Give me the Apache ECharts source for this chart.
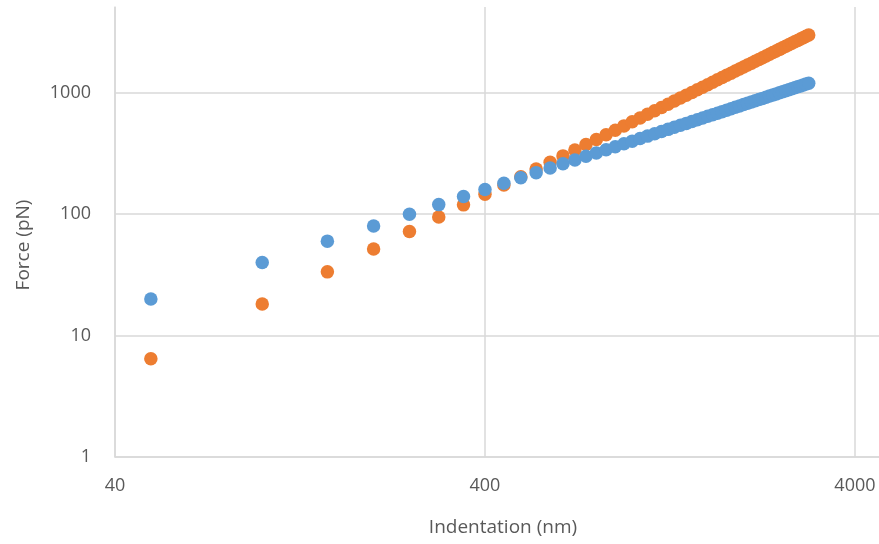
<!DOCTYPE html>
<html>
<head>
<meta charset="utf-8">
<script src="https://cdn.jsdelivr.net/npm/echarts@6/dist/echarts.min.js"></script>
<style>
html,body{margin:0;padding:0;background:#fff;}
#chart{width:879px;height:544px;}
</style>
</head>
<body>
<div id="chart"></div>
<script>
// Indentation (nm)
const indentation = [50,100,150,200,250,300,350,400,450,500,550,600,650,700,750,800,850,900,950,1000,
  1050,1100,1150,1200,1250,1300,1350,1400,1450,1500,1550,1600,1650,1700,1750,1800,1850,1900,1950,2000,
  2050,2100,2150,2200,2250,2300,2350,2400,2450,2500,2550,2600,2650,2700,2750,2800,2850,2900,2950,3000];
// Blue series force (pN)
const forceBlue = [20,40,60,80,100,120,140,160,180,200,220,240,260,280,300,320,340,360,380,400,
  420,440,460,480,500,520,540,560,580,600,620,640,660,680,700,720,740,760,780,800,
  820,840,860,880,900,920,940,960,980,1000,1020,1040,1060,1080,1100,1120,1140,1160,1180,1200];
// Orange series force (pN)
const forceOrange = [6.45,18.2,33.5,51.6,72.1,94.8,119.4,145.9,174.1,203.9,235.3,268.1,302.3,337.8,374.7,412.7,452.0,492.5,534.1,576.8,
  620.6,665.5,711.4,758.3,806.1,855.0,904.8,955.5,1007,1060,1113,1167,1223,1279,1335,1393,1451,1511,1571,1631,
  1693,1755,1818,1882,1947,2012,2078,2145,2212,2280,2349,2418,2488,2559,2630,2703,2775,2849,2923,2997];
const xTicks = [40,400,4000];
const yTicks = [1,10,100,1000];
const xTitle = 'Indentation (nm)';
const yTitle = 'Force (pN)';

const font = 'Open Sans';
const labelColor = '#595959';
const gridColor = '#d9d9d9';

const chart = echarts.init(document.getElementById('chart'), null, {renderer:'canvas'});
chart.setOption({
  animation:false,
  backgroundColor:'#fff',
  grid:{left:115, right:0, top:7, bottom:87, containLabel:false},
  xAxis:{
    type:'log', logBase:10, min:40, max:4646,
    axisLine:{show:true, lineStyle:{color:gridColor, width:1.5}},
    axisTick:{show:false, customValues:xTicks},
    axisLabel:{customValues:xTicks, color:labelColor, fontFamily:font, fontSize:18, margin:20,
      formatter:v=>String(Math.round(v))},
    splitLine:{show:true, lineStyle:{color:gridColor, width:1.5}}
  },
  yAxis:{
    type:'log', logBase:10, min:1, max:5093,
    axisLine:{show:true, lineStyle:{color:gridColor, width:1.5}},
    axisTick:{show:false, customValues:yTicks},
    axisLabel:{customValues:yTicks, color:labelColor, fontFamily:font, fontSize:18, margin:24,
      formatter:v=>String(Math.round(v))},
    splitLine:{show:true, lineStyle:{color:gridColor, width:1.5}}
  },
  graphic:[
    {type:'text', x:503, y:528, style:{text:xTitle, font:'19px "Open Sans"', fill:labelColor, textAlign:'center', textVerticalAlign:'middle'}},
    {type:'text', x:24, y:245, rotation:Math.PI/2, style:{text:yTitle, font:'19px "Open Sans"', fill:labelColor, textAlign:'center', textVerticalAlign:'middle'}}
  ],
  series:[
    {type:'scatter', name:'Orange', symbolSize:13.5, itemStyle:{color:'#ed7d31', opacity:1},
     data:indentation.map((x,i)=>[x,forceOrange[i]])},
    {type:'scatter', name:'Blue', symbolSize:13.5, itemStyle:{color:'#5b9bd5', opacity:1},
     data:indentation.map((x,i)=>[x,forceBlue[i]])}
  ]
});
</script>
</body>
</html>
